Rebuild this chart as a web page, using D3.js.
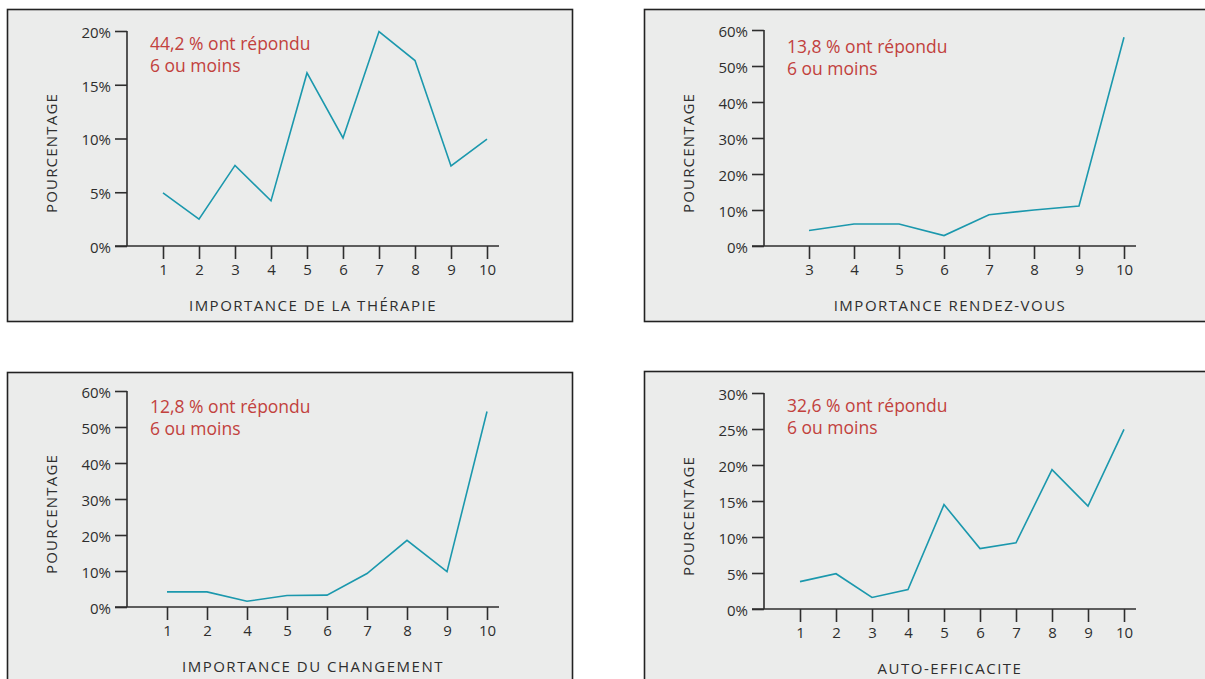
<!DOCTYPE html>
<html>
<head>
<meta charset="utf-8">
<script src="https://cdn.jsdelivr.net/npm/d3@7"></script>
<style>
  body { margin: 0; background: #fff; }
  svg { display: block; }
  text { font-family: "Open Sans", "Noto Sans", sans-serif; }
</style>
</head>
<body>
<div id="chart"></div>
<script>
// ---- data ----
var therapieCats = ["1", "2", "3", "4", "5", "6", "7", "8", "9", "10"];
var therapieVals = [4.95, 2.5, 7.5, 4.2, 16.1, 10.05, 19.95, 17.25, 7.45, 9.95];
var therapieTicks = [0, 5, 10, 15, 20];

var rdvCats = ["3", "4", "5", "6", "7", "8", "9", "10"];
var rdvVals = [4.3, 6.1, 6.1, 2.9, 8.7, 10.0, 11.1, 58.0];
var rdvTicks = [0, 10, 20, 30, 40, 50, 60];

var changementCats = ["1", "2", "4", "5", "6", "7", "8", "9", "10"];
var changementVals = [4.2, 4.2, 1.6, 3.2, 3.3, 9.3, 18.5, 9.8, 54.3];
var changementTicks = [0, 10, 20, 30, 40, 50, 60];

var autoCats = ["1", "2", "3", "4", "5", "6", "7", "8", "9", "10"];
var autoVals = [3.8, 4.9, 1.6, 2.7, 14.5, 8.4, 9.2, 19.35, 14.3, 24.95];
var autoTicks = [0, 5, 10, 15, 20, 25, 30];

var notes = ["44,2 % ont répondu", "13,8 % ont répondu", "12,8 % ont répondu", "32,6 % ont répondu"];
var xTitles = ["IMPORTANCE DE LA THÉRAPIE", "IMPORTANCE RENDEZ-VOUS", "IMPORTANCE DU CHANGEMENT", "AUTO-EFFICACITE"];

// ---- layout ----
var W = 1205, H = 679;
var panels = [
  { box: [7, 9, 565, 312],  ox: 127, oy: 246, top: 31,  noteDy: 19, cats: therapieCats, vals: therapieVals, ticks: therapieTicks },
  { box: [644, 9, 600, 312], ox: 764, oy: 246, top: 30,  noteDy: 23, cats: rdvCats, vals: rdvVals, ticks: rdvTicks },
  { box: [7, 372, 565, 330], ox: 127, oy: 607, top: 391, noteDy: 22, cats: changementCats, vals: changementVals, ticks: changementTicks },
  { box: [644, 371, 600, 330], ox: 764, oy: 609, top: 393, noteDy: 19, cats: autoCats, vals: autoVals, ticks: autoTicks }
];
var axisLen = 372, lastPos = 360;
var lineColor = "#1b98ad", noteColor = "#c2413d", inkColor = "#2e2e2e";

var svg = d3.select("#chart").append("svg")
  .attr("width", W).attr("height", H);

panels.forEach(function (p, i) {
  // panel frame
  svg.append("rect")
    .attr("x", p.box[0] + 0.5).attr("y", p.box[1] + 0.5)
    .attr("width", p.box[2]).attr("height", p.box[3])
    .attr("fill", "#ebeceb")
    .attr("stroke", "#222").attr("stroke-width", 1.6);

  var g = svg.append("g").attr("transform", "translate(" + p.ox + "," + p.oy + ")");

  var n = p.cats.length;
  var x = d3.scalePoint().domain(p.cats).range([lastPos / n, lastPos]);
  var y = d3.scaleLinear()
    .domain([0, d3.max(p.ticks)])
    .range([0, p.top - p.oy]);

  // y axis
  var yAxis = d3.axisLeft(y).tickValues(p.ticks).tickSize(12).tickPadding(4)
    .tickFormat(function (d) { return d + "%"; });
  var ya = g.append("g").call(yAxis);
  ya.select(".domain").remove();
  ya.append("line").attr("x1", 0).attr("x2", 0)
    .attr("y1", 0).attr("y2", y(d3.max(p.ticks)));

  // x axis
  var xAxis = d3.axisBottom(x).tickSize(13).tickPadding(5);
  var xa = g.append("g").call(xAxis);
  xa.select(".domain").remove();
  xa.append("line").attr("x1", -12).attr("x2", axisLen).attr("y1", 0).attr("y2", 0);

  ya.selectAll("line").attr("stroke", inkColor).attr("stroke-width", 1.6);
  xa.selectAll("line").attr("stroke", inkColor).attr("stroke-width", 1.6);
  g.selectAll(".tick text")
    .attr("fill", inkColor)
    .style("font-size", "15px");
  ya.selectAll(".tick text").attr("dy", "0.42em");

  // series line
  var line = d3.line()
    .x(function (d, j) { return x(p.cats[j]); })
    .y(function (d) { return y(d); });
  g.append("path")
    .datum(p.vals)
    .attr("d", line)
    .attr("fill", "none")
    .attr("stroke", lineColor)
    .attr("stroke-width", 1.6)
    .attr("stroke-linejoin", "miter");

  // note
  var note = g.append("text")
    .attr("x", 23)
    .attr("y", p.top - p.oy + p.noteDy)
    .attr("fill", noteColor)
    .style("font-size", "17.5px");
  note.append("tspan").text(notes[i]);
  note.append("tspan").attr("x", 23).attr("dy", 22).text("6 ou moins");

  // axis titles
  g.append("text")
    .attr("transform", "translate(-70," + (-93) + ") rotate(-90)")
    .attr("text-anchor", "middle")
    .attr("fill", inkColor)
    .style("font-size", "15px")
    .style("letter-spacing", "1.2px")
    .text("POURCENTAGE");

  g.append("text")
    .attr("x", axisLen / 2)
    .attr("y", 65)
    .attr("text-anchor", "middle")
    .attr("fill", inkColor)
    .style("font-size", "15px")
    .style("letter-spacing", "1.5px")
    .text(xTitles[i]);
});
</script>
</body>
</html>
